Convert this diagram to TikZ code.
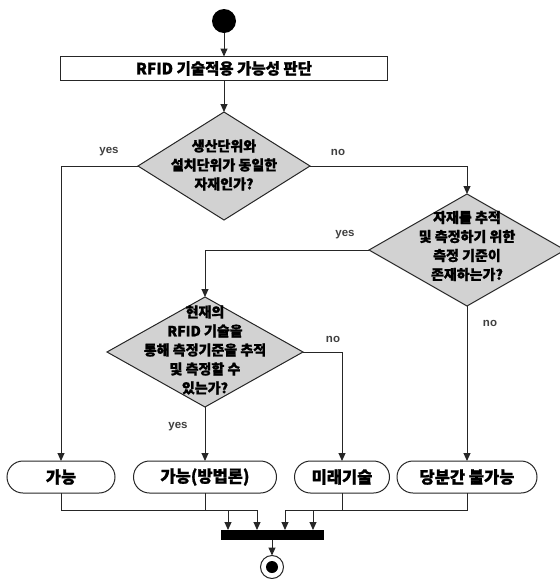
\documentclass[tikz,border=0pt]{standalone}
\usepackage{fontspec}
\setmainfont{Liberation Sans}
\newfontfamily\kr{Noto Sans CJK KR}[BoldFeatures={FakeBold=1.2}]
\usetikzlibrary{shapes.geometric,arrows.meta,calc}
\begin{document}
\begin{tikzpicture}[x=1pt,y=-1pt,
  ln/.style={draw=black!85, line width=1pt},
  arr/.style={ln, -{Triangle[length=8pt,width=7pt]}},
  dia/.style={diamond, draw=black!85, line width=1pt, fill=gray!35, inner sep=0pt, outer sep=0pt},
  dtext/.style={align=center, inner sep=0pt, font=\kr\bfseries\fontsize{14}{19}\selectfont},
  term/.style={draw=black!85, line width=1pt, rounded corners=16pt, minimum height=32pt, inner sep=0pt, outer sep=0pt, font=\kr\bfseries\fontsize{16.5}{18}\selectfont},
  lab/.style={font=\bfseries\fontsize{11.5}{14}\selectfont, text=black!75, inner sep=0pt}]
\useasboundingbox (0,0) rectangle (560,579);

% start
\node[circle, fill=black, minimum size=24pt, inner sep=0pt, outer sep=0pt] (start) at (224,21) {};
\node[draw=black!85, line width=1pt, minimum width=327pt, minimum height=24pt, inner sep=0pt, outer sep=0pt,
      font=\kr\bfseries\fontsize{15.5}{18}\selectfont] (act) at (224,68.5) {RFID 기술적용 가능성 판단};

% decisions
\node[dia, minimum width=172pt, minimum height=108pt] (d1) at (224,166) {};
\node[dtext] (d1t) at (224,165) {생산단위와\\설치단위가 동일한\\자재인가?};

\node[dia, minimum width=196pt, minimum height=112pt] (d2) at (467,250) {};
\node[dtext] (d2t) at (467,246) {자재를 추적\\및 측정하기 위한\\측정 기준이\\존재하는가?};

\node[dia, minimum width=196pt, minimum height=110pt] (d3) at (205,352) {};
\node[dtext] (d3t) at (205,350) {현재의\\RFID 기술을\\통해 측정기준을 추적\\및 측정할 수\\있는가?};

% terminals
\node[term, minimum width=108pt] (t1) at (61,477) {가능};
\node[term, minimum width=143pt] (t2) at (205,477) {가능(방법론)};
\node[term, minimum width=95pt]  (t3) at (342,477) {미래기술};
\node[term, minimum width=140pt] (t4) at (467,477) {당분간 불가능};

% join bar and end
\node[fill=black, minimum width=103pt, minimum height=10pt, inner sep=0pt, outer sep=0pt] (bar) at (272,535) {};
\node[circle, draw=black!85, line width=1pt, minimum size=23pt, inner sep=0pt, outer sep=0pt] (endc) at (272,567) {};
\node[circle, fill=black, minimum size=12pt, inner sep=0pt] (endd) at (272,567) {};

\coordinate (j1) at (228,510);
\coordinate (j2) at (257,510);
\coordinate (j3) at (285,510);
\coordinate (j4) at (313,510);

% connectors
\draw[arr] (start) -- (act.north);
\draw[arr] (act.south) -- (d1.north);
\draw[arr] (d1.west) -| (t1.north);
\draw[arr] (d1.east) -| (d2.north);
\draw[arr] (d2.west) -| (d3.north);
\draw[arr] (d2.south) -- (t4.north);
\draw[arr] (d3.south) -- (t2.north);
\draw[arr] (d3.east) -| (t3.north);

\draw[arr] (t1.south) |- (j1) -- (j1 |- bar.north);
\draw[arr] (t2.south) |- (j2) -- (j2 |- bar.north);
\draw[arr] (t3.south) |- (j3) -- (j3 |- bar.north);
\draw[arr] (t4.south) |- (j4) -- (j4 |- bar.north);
\draw[arr] (bar.south) -- (endc.north);

% labels
\node[lab] (l1) at (109,152) {yes};
\node[lab] (l2) at (338,152) {no};
\node[lab] (l3) at (345,235) {yes};
\node[lab] (l4) at (490,323) {no};
\node[lab] (l5) at (333,339) {no};
\node[lab] (l6) at (178,427) {yes};
\end{tikzpicture}
\end{document}
